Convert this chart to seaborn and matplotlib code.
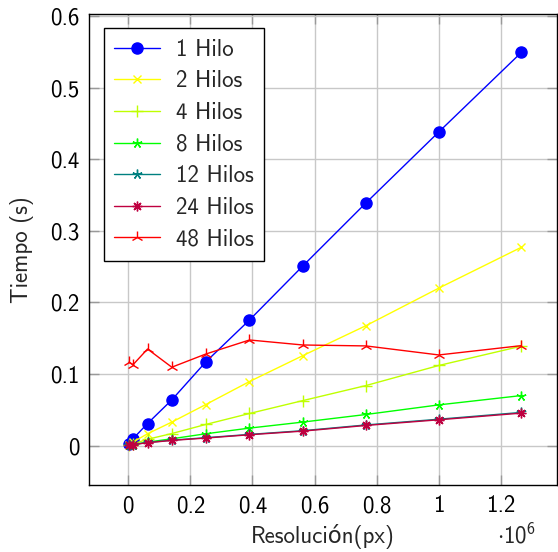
import matplotlib
matplotlib.use("Agg")
import matplotlib.pyplot as plt
import seaborn as sns
import numpy as np

# ---- data ----
resolucion = [2500, 15625, 62500, 140625, 250000, 390625, 562500, 765625, 1000000, 1265625]
hilos_1 = [0.002, 0.0097, 0.031, 0.064, 0.117, 0.1755, 0.251, 0.339, 0.438, 0.549]
hilos_2 = [0.001, 0.005, 0.0167, 0.033, 0.0575, 0.0896, 0.1258, 0.1676, 0.220, 0.277]
hilos_4 = [0.0006, 0.0025, 0.009, 0.017, 0.0297, 0.045, 0.063, 0.084, 0.112, 0.139]
hilos_8 = [0.0005, 0.0015, 0.005, 0.0097, 0.0167, 0.0246, 0.033, 0.0436, 0.057, 0.070]
hilos_12 = [0.0006, 0.0017, 0.0045, 0.0078, 0.0112, 0.0158, 0.021, 0.029, 0.037, 0.0465]
hilos_24 = [0.0005, 0.0015, 0.0042, 0.0074, 0.0107, 0.0153, 0.0204, 0.0283, 0.0362, 0.0455]
hilos_48 = [0.1166, 0.113, 0.135, 0.1096, 0.128, 0.1476, 0.1406, 0.1393, 0.1267, 0.1397]
labels = ["1 Hilo", "2 Hilos", "4 Hilos", "8 Hilos", "12 Hilos", "24 Hilos", "48 Hilos"]
x_ticks = [0, 200000, 400000, 600000, 800000, 1000000, 1200000]
x_tick_labels = ["0", "0.2", "0.4", "0.6", "0.8", "1", "1.2"]
y_ticks = [0, 0.1, 0.2, 0.3, 0.4, 0.5, 0.6]
y_tick_labels = ["0", "0.1", "0.2", "0.3", "0.4", "0.5", "0.6"]

series = [hilos_1, hilos_2, hilos_4, hilos_8, hilos_12, hilos_24, hilos_48]
colors = ["#0000ff", "#ffff00", "#bfff00", "#00ff00", "#008080", "#bf0040", "#ff0000"]
markers = ["o", "x", "+", (5, 2, 0), (5, 2, 0), (8, 2, 0), "2"]
msizes = [8, 6, 8, 7, 7, 7, 9]

sns.set_theme(style="white")
plt.rcParams["font.family"] = ["cmss10", "DejaVu Sans"]
plt.rcParams["mathtext.fontset"] = "custom"
plt.rcParams["mathtext.rm"] = "cmss10"
plt.rcParams["axes.unicode_minus"] = False

FS = 16.5

fig = plt.figure(figsize=(5.58, 5.52), dpi=100)
ax = fig.add_axes([0.160, 0.1205, 0.838, 0.854])

for ys, lab, c, m, ms in zip(series, labels, colors, markers, msizes):
    sns.lineplot(x=resolucion, y=ys, ax=ax, color=c, marker=m, markersize=ms,
                 markeredgecolor=c, markerfacecolor=c, markeredgewidth=1.0,
                 linewidth=1.0, label=lab)

ax.set_xlim(-125000, 1380000)
ax.set_ylim(-0.0555, 0.6025)
ax.set_xticks(x_ticks)
ax.set_xticklabels(x_tick_labels)
ax.set_yticks(y_ticks)
ax.set_yticklabels(y_tick_labels)
ax.grid(True, color="#c8c8c8", linewidth=1.0)
ax.set_axisbelow(True)
for s in ax.spines.values():
    s.set_color("black")
    s.set_linewidth(1.0)
ax.tick_params(axis="both", direction="in", length=7, width=1.0, color="#999999",
               labelsize=FS, labelcolor="black", top=True, right=True, pad=7,
               bottom=True, left=True)

ax.set_xlabel("Resolución(px)", fontsize=FS, labelpad=5)
ax.set_ylabel("Tiempo (s)", fontsize=FS, labelpad=12)
fig.text(0.925, 0.006, r"$\cdot 10^{6}$", fontsize=FS, ha="center", va="bottom")

leg = ax.legend(loc="upper left", bbox_to_anchor=(0.0314, 0.9697), borderaxespad=0,
                fontsize=FS, frameon=True, fancybox=False, handlelength=2.0,
                labelspacing=0.42, borderpad=0.45, handletextpad=0.7)
leg.get_frame().set_edgecolor("black")
leg.get_frame().set_linewidth(1.0)
leg.get_frame().set_alpha(1)

fig.savefig("out.png", dpi=100)
